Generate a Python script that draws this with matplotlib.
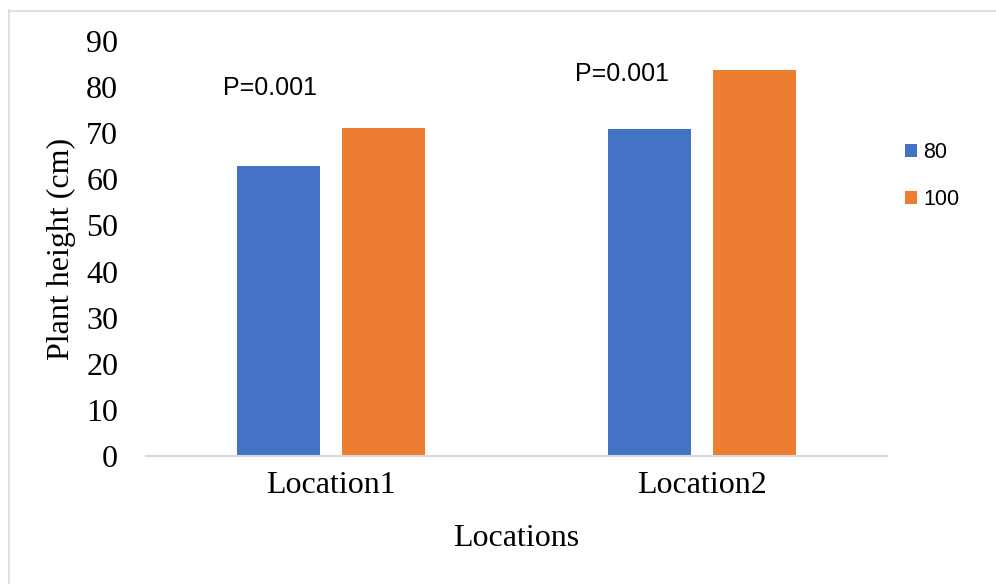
import matplotlib
matplotlib.use("Agg")
import matplotlib.pyplot as plt
from matplotlib.lines import Line2D
import numpy as np

categories = ["Location1", "Location2"]
series_names = ["80", "100"]
values_80 = [62.9, 70.9]
values_100 = [71.1, 83.7]
p_labels = ["P=0.001", "P=0.001"]
yticks = [0, 10, 20, 30, 40, 50, 60, 70, 80, 90]

colors = ["#4472C4", "#ED7D31"]
serif = "Liberation Serif"
sans = "Liberation Sans"
fs = 23

fig = plt.figure(figsize=(9.96, 5.84), dpi=100)
ax = fig.add_axes([146/996, 1-456/584, 741/996, 415/584])

x = np.arange(len(categories))
w = 0.224
off = 0.1417
b1 = ax.bar(x - off, values_80, width=w, color=colors[0], label=series_names[0])
b2 = ax.bar(x + off, values_100, width=w, color=colors[1], label=series_names[1])

ax.set_xlim(-0.5, 1.5)
ax.set_ylim(0, 90)
ax.set_yticks(yticks)
ax.set_yticklabels([str(t) for t in yticks], fontfamily=serif, fontsize=fs)
ax.set_xticks(x)
ax.set_xticklabels(categories, fontfamily=serif, fontsize=fs)
ax.tick_params(axis="both", length=0)
ax.tick_params(axis="y", pad=20)
ax.tick_params(axis="x", pad=11)

for s in ["left", "right", "top"]:
    ax.spines[s].set_visible(False)
ax.spines["bottom"].set_color("#d9d9d9")
ax.spines["bottom"].set_linewidth(1.5)

ax.set_ylabel("Plant height (cm)", fontfamily=serif, fontsize=fs)
ax.yaxis.label.set_va("center")
ax.yaxis.set_label_coords((61-146)/741, 0.5)
ax.set_xlabel("Locations", fontfamily=serif, fontsize=fs)
ax.xaxis.label.set_va("center")
ax.xaxis.set_label_coords((516-146)/741, (456-538)/415)

# P-value annotations
ax.text(-0.165, 79.8, p_labels[0], fontfamily=sans, fontsize=18, ha="center", va="center")
ax.text(0.785, 82.8, p_labels[1], fontfamily=sans, fontsize=18, ha="center", va="center")

leg = fig.legend(handles=[b1, b2], labels=series_names, loc="upper left",
                 bbox_to_anchor=(905/996, 1-142/584), frameon=False,
                 borderpad=0, borderaxespad=0, handlelength=0.55, handleheight=0.55,
                 handletextpad=0.3, labelspacing=1.2,
                 prop={"family": sans, "size": 15.5})

# outer border
fig.add_artist(Line2D([8.5/996, 8.5/996], [0, 1-10/584], color="#d9d9d9", lw=1.2, transform=fig.transFigure))
fig.add_artist(Line2D([8.5/996, 1], [1-10.5/584, 1-10.5/584], color="#d9d9d9", lw=1.2, transform=fig.transFigure))

fig.savefig("out.png", dpi=100)
